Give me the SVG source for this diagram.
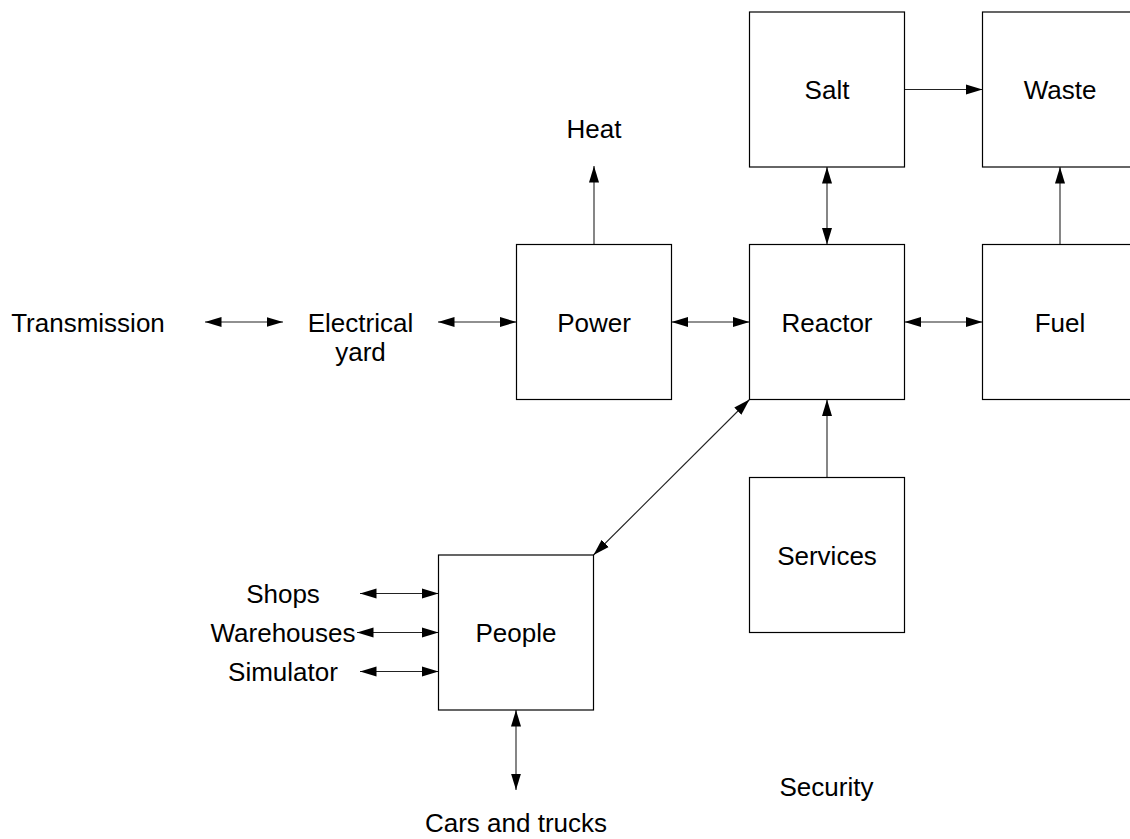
<svg xmlns="http://www.w3.org/2000/svg" width="1130" height="839" viewBox="0 0 1130 839">
<style>
.box{fill:#fff;stroke:#000;stroke-width:1.2}
.t{font-family:"Liberation Sans",Arial,sans-serif;font-size:26px;fill:#000;text-anchor:middle}
.c{fill:none;stroke:#222;stroke-width:1.1}
</style>
<defs>
<marker id="ah" markerUnits="userSpaceOnUse" markerWidth="17" markerHeight="11" viewBox="0 0 17 11" refX="16.5" refY="5.5" orient="auto-start-reverse">
<path d="M0,0.5 L16.5,5.5 L0,10.5 z" fill="#000"/>
</marker>
</defs>
<rect width="1130" height="839" fill="#fff"/>
<g id="connectors">
<line class="c" x1="904.5" y1="89.5" x2="982.5" y2="89.5" marker-end="url(#ah)"/>
<line class="c" x1="827" y1="167" x2="827" y2="244.5" marker-start="url(#ah)" marker-end="url(#ah)"/>
<line class="c" x1="1060" y1="244.5" x2="1060" y2="167" marker-end="url(#ah)"/>
<line class="c" x1="594" y1="244.5" x2="594" y2="166" marker-end="url(#ah)"/>
<line class="c" x1="205" y1="322" x2="283" y2="322" marker-start="url(#ah)" marker-end="url(#ah)"/>
<line class="c" x1="438" y1="322" x2="516.5" y2="322" marker-start="url(#ah)" marker-end="url(#ah)"/>
<line class="c" x1="671.5" y1="322" x2="749.5" y2="322" marker-start="url(#ah)" marker-end="url(#ah)"/>
<line class="c" x1="904.5" y1="322" x2="982.5" y2="322" marker-start="url(#ah)" marker-end="url(#ah)"/>
<line class="c" x1="827" y1="477.5" x2="827" y2="399.5" marker-end="url(#ah)"/>
<line class="c" x1="593.5" y1="555" x2="749.5" y2="399.5" marker-start="url(#ah)" marker-end="url(#ah)"/>
<line class="c" x1="360" y1="593.5" x2="438.5" y2="593.5" marker-start="url(#ah)" marker-end="url(#ah)"/>
<line class="c" x1="357" y1="632.5" x2="438.5" y2="632.5" marker-start="url(#ah)" marker-end="url(#ah)"/>
<line class="c" x1="360" y1="671.5" x2="438.5" y2="671.5" marker-start="url(#ah)" marker-end="url(#ah)"/>
<line class="c" x1="516" y1="710" x2="516" y2="790" marker-start="url(#ah)" marker-end="url(#ah)"/>
</g>
<g id="salt"><rect class="box" x="749.5" y="12" width="155" height="155"/><text class="t" x="827" y="99">Salt</text></g>
<g id="waste"><rect class="box" x="982.5" y="12" width="155" height="155"/><text class="t" x="1060" y="99">Waste</text></g>
<g id="power"><rect class="box" x="516.5" y="244.5" width="155" height="155"/><text class="t" x="594" y="332">Power</text></g>
<g id="reactor"><rect class="box" x="749.5" y="244.5" width="155" height="155"/><text class="t" x="827" y="332">Reactor</text></g>
<g id="fuel"><rect class="box" x="982.5" y="244.5" width="155" height="155"/><text class="t" x="1060" y="332">Fuel</text></g>
<g id="services"><rect class="box" x="749.5" y="477.5" width="155" height="155"/><text class="t" x="827" y="565">Services</text></g>
<g id="people"><rect class="box" x="438.5" y="555" width="155" height="155"/><text class="t" x="516" y="642">People</text></g>
<g id="heat"><text class="t" x="594" y="138">Heat</text></g>
<g id="transmission"><text class="t" x="88" y="332">Transmission</text></g>
<g id="electrical-yard"><text class="t" x="360.5" y="332">Electrical</text><text class="t" x="360.5" y="361">yard</text></g>
<g id="shops"><text class="t" x="283" y="603">Shops</text></g>
<g id="warehouses"><text class="t" x="283" y="642">Warehouses</text></g>
<g id="simulator"><text class="t" x="283" y="681">Simulator</text></g>
<g id="cars"><text class="t" x="516" y="832">Cars and trucks</text></g>
<g id="security"><text class="t" x="826.5" y="796">Security</text></g>
</svg>
